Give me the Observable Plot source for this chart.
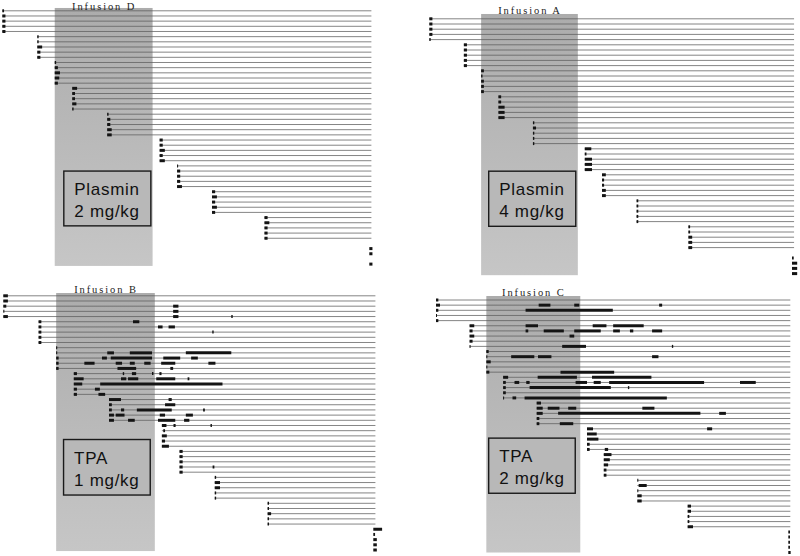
<!DOCTYPE html>
<html><head><meta charset="utf-8">
<script src="https://cdn.jsdelivr.net/npm/d3@7"></script>
<script src="https://cdn.jsdelivr.net/npm/@observablehq/plot@0.6"></script>
<style>
html,body{margin:0;padding:0;background:#fff;}
#chart{position:relative;width:800px;height:556px;overflow:hidden;background:#fff;}
#chart svg{position:absolute;left:0;top:0;}
</style></head><body><div id="chart"></div>
<script>
// time (min) at which each group of 5 bleeding-time tests started
const groupStarts = [0, 10, 15, 20, 30, 45, 50, 60, 75, 105];
const lineEnd = 105.6;          // end of observation (min)
const infusion = [15, 43];      // infusion window (min)

// Bleeding intervals [start, stop] in minutes for each of the 50 tests
const bleedsD = [
  [[0,0.5]],[[0,0.9]],[[0,0.9]],[[0,0.9]],[[0,0.9]],
  [[10,10.4]],[[10,10.4]],[[10,11.4]],[[10,10.9]],[[10,10.9]],
  [[15,15.4]],[[15,15.9]],[[15,16.5]],[[15,16.3]],[[15,15.9]],
  [[20,21.4]],[[20,20.8]],[[20,20.8]],[[20,21.2]],[[20,20.4]],
  [[30,30.4]],[[30,30.9]],[[30,30.9]],[[30,31.3]],[[30,31.3]],
  [[45,45.9]],[[45,45.9]],[[45,46.5]],[[45,45.9]],[[45,46.5]],
  [[50,50.3]],[[50,50.9]],[[50,50.9]],[[50,50.9]],[[50,51.4]],
  [[60,60.9]],[[60,61.4]],[[60,60.9]],[[60,61.4]],[[60,60.9]],
  [[75,75.9]],[[75,76.4]],[[75,75.9]],[[75,75.9]],[[75,75.9]],
  null,[[105,105.9]],[[105,105.9]],null,[[105,105.9]]
];
const bleedsA = [
  [[0,0.9]],[[0,0.9]],[[0,0.9]],[[0,0.9]],[[0,0.4]],
  [[10,10.9]],[[10,10.9]],[[10,10.9]],[[10,10.9]],[[10,10.9]],
  [[15,15.8]],[[15,15.4]],[[15,15.8]],[[15,15.8]],[[15,15.8]],
  [[20,20.8]],[[20,20.8]],[[20,21.8]],[[20,21.8]],[[20,21.8]],
  [[30,30.4]],[[30,30.9]],[[30,30.4]],[[30,30.4]],[[30,30.4]],
  [[45,46.9]],[[45,45.5]],[[45,47.1]],[[45,47.1]],[[45,47.1]],
  [[50,51.1]],[[50,50.6]],[[50,50.6]],[[50,51.1]],[[50,51.1]],
  [[60,60.5]],[[60,60.5]],[[60,60.5]],[[60,60.5]],[[60,60.5]],
  [[75,75.5]],[[75,75.5]],[[75,76.1]],[[75,76.1]],[[75,76.1]],
  null,[[105,105.5]],[[105,106.5]],[[105,106.5]],[[105,106.5]]
];
const bleedsB = [
  [[0,1.3]],
  [[0,1.3]],
  [[0,0.85],[48.2,49.7]],
  [[0,0.3],[48.2,49.7]],
  [[0,1.3],[48.2,49.7],[64.7,65.1]],
  [[10,10.8],[36.8,38.6]],
  [[10,10.8],[43.9,45.2],[46.9,48.7]],
  [[10,10.8],[59.3,59.7]],
  [[10,10.8]],
  [[10,10.8]],
  [[15,15.3]],
  [[15,15.3],[29.5,31.4],[35.9,42.2],[51.8,64.7]],
  [[15,15.7],[28,29.4],[30.5,42.2],[45.4,50.2],[53.3,55.2]],
  [[15,15.7],[23,25.9],[31.9,33.7],[35.9,37.3],[40,41.8],[44.8,48.8],[58.2,60.2]],
  [[15,15.7],[32.4,37.7],[47.4,48.2]],
  [[20,20.9],[33.9,34.3],[36.5,37.7],[42.2,42.6],[44.3,44.9]],
  [[20,22.8],[33.4,34.9],[35.4,38.3],[43.4,48.8],[52.3,52.8]],
  [[20,22.4],[27.5,62.2]],
  [[20,20.9],[26,27.4]],
  [[20,20.9],[27,28.9]],
  [[30,33.4],[46.9,47.8]],
  [[30,30.8],[45.9,48.8]],
  [[30,30.8],[33.4,34.3],[37.9,47.8],[56.7,57.2]],
  [[30,31.4],[31.9,34.4],[44.4,45.9],[51.8,53.8]],
  [[30,31.4],[35.4,37.3],[43.9,48.8],[51.3,52.8]],
  [[45,46.3],[48.3,48.9],[58.8,59.2]],
  [[45.4,45.9]],
  [[45,46.4]],
  [[45,45.9]],
  [[45,47]],
  [[50,50.9]],[[50,50.9]],[[50,50.9]],[[50,50.9],[59.4,59.9]],[[50,50.9]],
  [[60,60.4]],[[60,61.5]],[[60,61.5]],[[60,60.4]],[[60,60.4]],
  [[75,75.4]],[[75,75.4]],[[75,76]],[[75,75.4]],[[75,75.4]],
  [[105,107.5]],[[105,105.5]],[[105,106]],[[105,106]],[[105,106]]
];
const bleedsC = [
  [[0,0.7]],
  [[0,1.2],[30.6,34.1],[41.2,42.7],[66.5,67.4]],
  [[0,0.7],[26.7,52.7]],
  [[0,0.3]],
  [[0,0.7]],
  [[10,11.4],[26.7,30.4],[46.7,50.8],[52.8,61.9]],
  [[10,10.9],[26.7,27.5],[32.1,38.1],[41.2,49.1],[52.8,54.8],[57.8,58.8],[64.4,67.4]],
  [[10,11.4],[39.8,41.2]],
  [[10,10.9]],
  [[10,10.3],[37.6,44.7],[70.3,70.7]],
  [[15,15.7]],
  [[15,15.3],[22.4,29.3],[30.4,34.4],[64.4,66.3]],
  [[15,16.3]],
  [[15,15.3]],
  [[15,15.9],[37.1,53.1]],
  [[20,21.5],[30.3,42],[46.5,64.2]],
  [[20,20.8],[23.4,24.8],[26.9,27.9],[41.6,45],[47,49.1],[51.6,79.9],[90.6,95.3]],
  [[20,20.8],[27.9,52.1],[57.2,57.6]],
  [[20,20.8]],
  [[20,20.3],[22.8,23.9],[26.4,68.8]],
  [[30,31.3]],
  [[30,31.8],[33.3,36.8],[39.4,41.8],[61.5,65.1]],
  [[30,31.8],[36.4,78.8],[84.4,86.4]],
  [[30,30.8]],
  [[30,30.8],[36.9,40.9]],
  [[45,46.8],[80.8,82.3]],
  [[45,47.9]],
  [[45,48.4]],
  [[45,45.8]],
  [[45,45.8],[50.3,51.3]],
  [[50,52.3]],[[50,51.8]],[[50,51.3]],[[50,50.8]],[[50,50.8]],
  [[60,60.3]],[[60.4,62.8]],[[60,60.3]],[[60,61.3]],[[60,61.3]],
  [[75,76]],[[75,76]],[[75,75.5]],[[75,75.5]],[[75,76.6]],
  [[105,105.5]],[[105,105.5]],[[105,105.5]],[[105,105.5]],[[105,105.7]]
];

const titles = ["Infusion D", "Infusion A", "Infusion B", "Infusion C"];
const labels = ["Plasmin\n2 mg/kg", "Plasmin\n4 mg/kg", "TPA\n1 mg/kg", "TPA\n2 mg/kg"];

// layout of each panel (pixel ranges of the scales, shade and label box extents in data units)
const panels = [
  {id:"D", bleeds:bleedsD, xr:[2.3,369.3], yr:[10.3,263.6], shadeY:[-0.45,49.45], box:[17.6,42.5,31.1,41.7], titleDy:1.8},
  {id:"A", bleeds:bleedsA, xr:[429.3,792], yr:[18.3,273.1], shadeY:[-0.83,49.4], box:[17.2,42.4,29.4,40.0], titleDy:-0.5},
  {id:"B", bleeds:bleedsB, xr:[3.3,373.3], yr:[295.3,549.5], shadeY:[-0.44,49.3], box:[17.1,41.7,27.8,38.5], titleDy:-0.5},
  {id:"C", bleeds:bleedsC, xr:[436,788.3], yr:[299.5,552], shadeY:[-0.68,49.1], box:[15.7,41.5,26.9,37.6], titleDy:-0.5}
];

const chart = document.getElementById("chart");
panels.forEach((p, k) => {
  const rows = p.bleeds.map((iv, i) => ({row: i, start: groupStarts[Math.floor(i / 5)], iv}));
  const lines = rows.filter(r => r.iv && r.start < lineEnd - 1);
  const bars = rows.flatMap(r => (r.iv || []).map(([a, b]) => ({row: r.row, a, b})));
  const b = p.box;
  const svg = Plot.plot({
    width: 800, height: 556, margin: 0,
    x: {domain: [0, 105], range: p.xr, axis: null},
    y: {domain: [0, 49], range: p.yr, axis: null},
    style: {background: "transparent", overflow: "visible"},
    marks: [
      Plot.rect([0], {x1: infusion[0], x2: infusion[1], y1: p.shadeY[0], y2: p.shadeY[1], fill: `url(#grad${p.id})`}),
      Plot.ruleY(lines, {y: "row", x1: "start", x2: lineEnd, stroke: "#5c5c5c", strokeWidth: 0.75}),
      Plot.ruleY(bars, {y: "row", x1: "a", x2: "b", stroke: "#141414", strokeWidth: 3}),
      Plot.rect([0], {x1: b[0], x2: b[1], y1: b[2], y2: b[3], fill: "#b8b8b8", stroke: "#1a1a1a", strokeWidth: 1.4}),
      Plot.text([labels[k]], {x: b[0], y: (b[2] + b[3]) / 2, text: d => d, textAnchor: "start", dx: 10,
        lineAnchor: "middle", lineHeight: 1.3, fontSize: 17, fontFamily: "Liberation Sans, Arial, sans-serif", fill: "#111"}),
      Plot.text([titles[k]], {x: (infusion[0] + infusion[1]) / 2, y: p.shadeY[0], text: d => d,
        lineAnchor: "bottom", dy: p.titleDy, fontSize: 10.5, fontFamily: "Liberation Serif, Times New Roman, serif", fill: "#222"})
    ]
  });
  const s = d3.select(svg);
  const g = s.insert("defs", ":first-child").append("linearGradient")
    .attr("id", `grad${p.id}`).attr("x1", 0).attr("y1", 0).attr("x2", 0).attr("y2", 1);
  g.append("stop").attr("offset", "0%").attr("stop-color", "#acacac");
  g.append("stop").attr("offset", "100%").attr("stop-color", "#c6c6c6");
  const texts = s.selectAll('g[aria-label="text"]').nodes();
  d3.select(texts[0]).style("letter-spacing", "0.7px");
  d3.select(texts[1]).style("letter-spacing", "1.9px");
  chart.appendChild(svg);
});
</script></body></html>
